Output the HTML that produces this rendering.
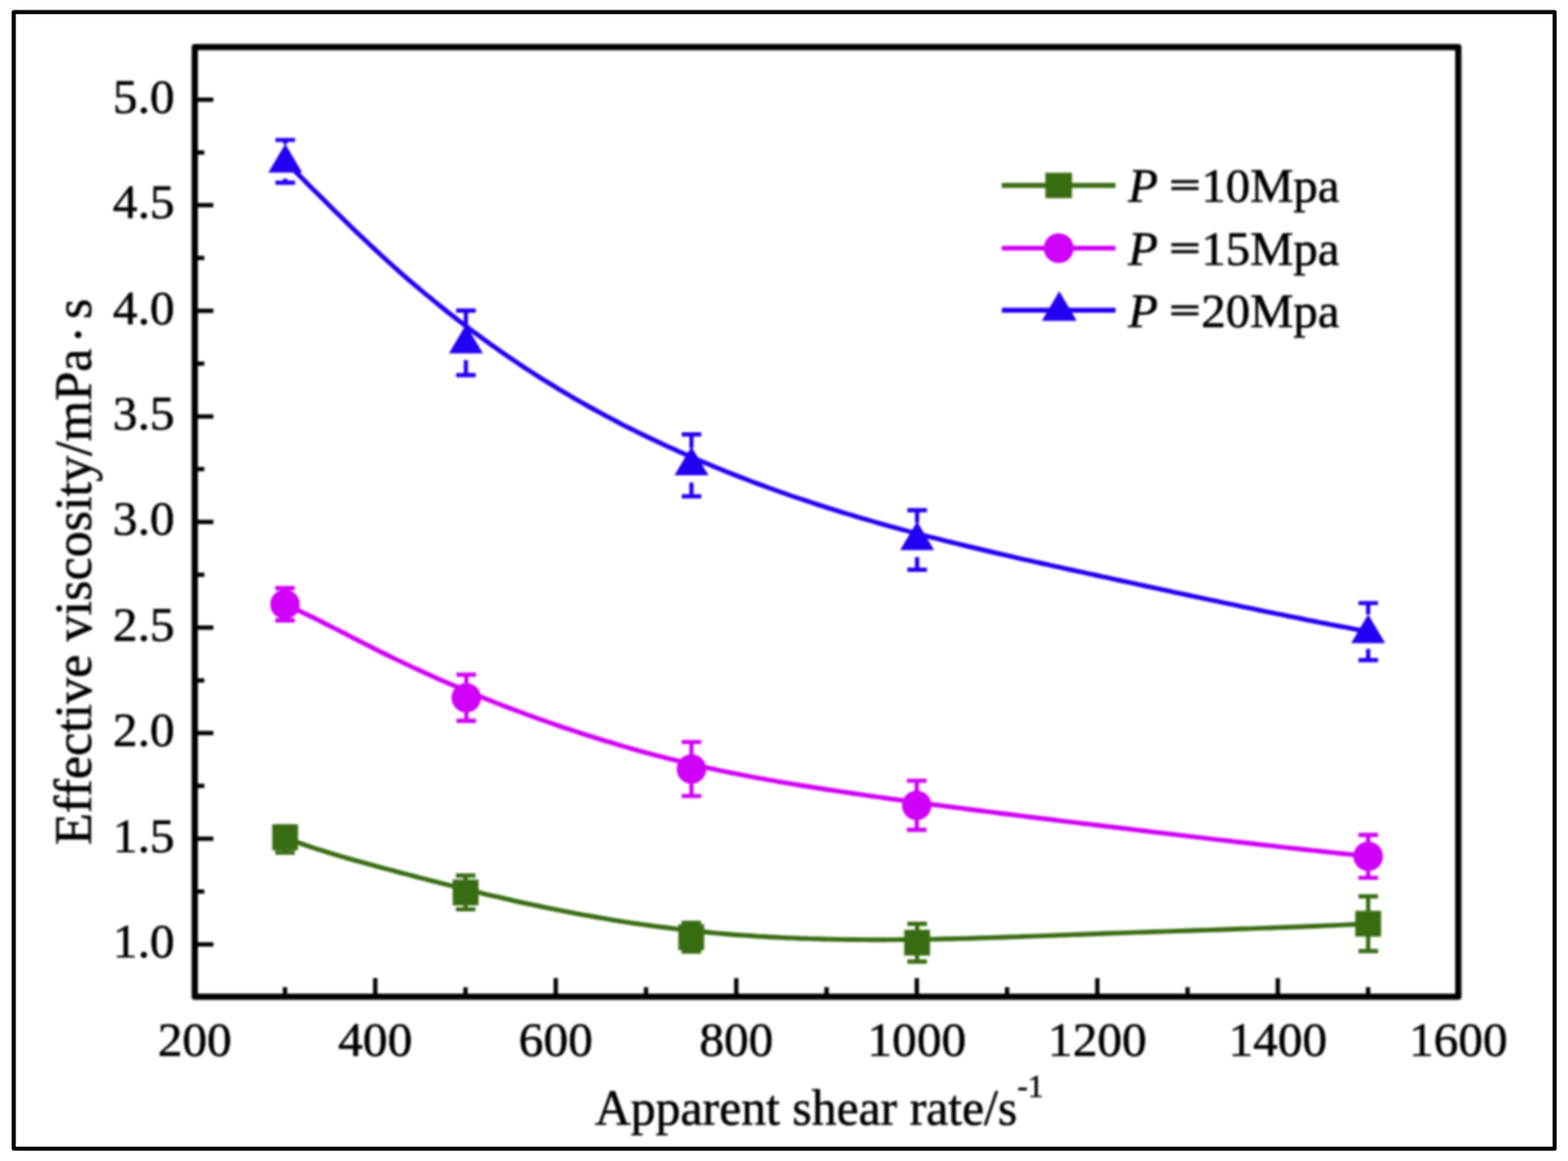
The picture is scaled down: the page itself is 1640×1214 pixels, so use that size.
<!DOCTYPE html><html><head><meta charset="utf-8"><title>Effective viscosity vs apparent shear rate</title><style>html,body{margin:0;padding:0;background:#fff;overflow:hidden;}svg{display:block;}text{font-family:"Liberation Serif","Times New Roman",serif;fill:#000;stroke:#000;stroke-width:0.6px;}</style></head><body>
<svg width="1640" height="1214" viewBox="0 0 1640 1214">
<defs><filter id="bl" x="0" y="0" width="1" height="1" color-interpolation-filters="sRGB"><feGaussianBlur stdDeviation="1.0"/></filter></defs>
<rect x="0" y="0" width="1640" height="1214" fill="#fff"/>
<g filter="url(#bl)">
<rect x="0" y="0" width="1640" height="1214" fill="#fff"/>
<rect x="203.7" y="49.2" width="1321.6" height="993.0" fill="none" stroke="#000" stroke-width="6.5" stroke-linejoin="round"/>
<path d="M203.7,987.4H223.2 M203.7,877.0H223.2 M203.7,766.6H223.2 M203.7,656.2H223.2 M203.7,545.8H223.2 M203.7,435.4H223.2 M203.7,325.0H223.2 M203.7,214.6H223.2 M203.7,104.2H223.2 M203.7,932.2H213.7 M203.7,821.8H213.7 M203.7,711.4H213.7 M203.7,601.0H213.7 M203.7,490.6H213.7 M203.7,380.2H213.7 M203.7,269.8H213.7 M203.7,159.4H213.7 M203.7,1042.2V1022.7 M392.5,1042.2V1022.7 M581.3,1042.2V1022.7 M770.1,1042.2V1022.7 M958.9,1042.2V1022.7 M1147.7,1042.2V1022.7 M1336.5,1042.2V1022.7 M1525.3,1042.2V1022.7 M298.1,1042.2V1032.2 M486.9,1042.2V1032.2 M675.7,1042.2V1032.2 M864.5,1042.2V1032.2 M1053.3,1042.2V1032.2 M1242.1,1042.2V1032.2 M1430.9,1042.2V1032.2" stroke="#000" stroke-width="4.5" fill="none"/>
<text x="182.6" y="1001.0" font-size="51.6" text-anchor="end">1.0</text>
<text x="182.6" y="890.6" font-size="51.6" text-anchor="end">1.5</text>
<text x="182.6" y="780.2" font-size="51.6" text-anchor="end">2.0</text>
<text x="182.6" y="669.8" font-size="51.6" text-anchor="end">2.5</text>
<text x="182.6" y="559.4" font-size="51.6" text-anchor="end">3.0</text>
<text x="182.6" y="449.0" font-size="51.6" text-anchor="end">3.5</text>
<text x="182.6" y="338.6" font-size="51.6" text-anchor="end">4.0</text>
<text x="182.6" y="228.2" font-size="51.6" text-anchor="end">4.5</text>
<text x="182.6" y="117.8" font-size="51.6" text-anchor="end">5.0</text>
<text x="203.7" y="1103.9" font-size="51.6" text-anchor="middle">200</text>
<text x="392.5" y="1103.9" font-size="51.6" text-anchor="middle">400</text>
<text x="581.3" y="1103.9" font-size="51.6" text-anchor="middle">600</text>
<text x="770.1" y="1103.9" font-size="51.6" text-anchor="middle">800</text>
<text x="958.9" y="1103.9" font-size="51.6" text-anchor="middle">1000</text>
<text x="1147.7" y="1103.9" font-size="51.6" text-anchor="middle">1200</text>
<text x="1336.5" y="1103.9" font-size="51.6" text-anchor="middle">1400</text>
<text x="1525.3" y="1103.9" font-size="51.6" text-anchor="middle">1600</text>
<text x="622.2" y="1176" font-size="52">Apparent shear rate/s<tspan font-size="33" dy="-29">-1</tspan></text>
<text transform="rotate(-90)" x="-883.5" y="94.5" font-size="54.6">Effective viscosity/mPa<tspan x="-359" dy="5">·</tspan><tspan x="-333.5" dy="-5">s</tspan></text>
<path d="M298.2,876.0 L304.5,878.4 L310.9,880.7 L317.2,882.9 L323.5,885.1 L329.8,887.2 L336.2,889.2 L342.5,891.2 L348.8,893.1 L355.2,895.0 L361.5,896.8 L367.8,898.6 L374.1,900.4 L380.5,902.1 L386.8,903.9 L393.1,905.6 L399.5,907.3 L405.8,909.0 L412.1,910.6 L418.4,912.3 L424.8,914.0 L431.1,915.7 L437.4,917.3 L443.8,919.0 L450.1,920.6 L456.4,922.2 L462.7,923.8 L469.1,925.4 L475.4,927.0 L481.7,928.6 L488.1,930.2 L494.4,931.7 L500.7,933.2 L507.0,934.8 L513.4,936.3 L519.7,937.7 L526.0,939.2 L532.4,940.6 L538.7,942.1 L545.0,943.5 L551.3,944.9 L557.7,946.2 L564.0,947.5 L570.3,948.9 L576.7,950.2 L583.0,951.4 L589.3,952.7 L595.6,953.9 L602.0,955.1 L608.3,956.3 L614.6,957.4 L621.0,958.5 L627.3,959.6 L633.6,960.7 L639.9,961.8 L646.3,962.8 L652.6,963.8 L658.9,964.8 L665.3,965.7 L671.6,966.6 L677.9,967.5 L684.2,968.4 L690.6,969.2 L696.9,970.0 L703.2,970.8 L709.6,971.6 L715.9,972.3 L722.2,973.0 L728.5,973.7 L734.9,974.3 L741.2,975.0 L747.5,975.6 L753.9,976.1 L760.2,976.7 L766.5,977.2 L772.8,977.7 L779.2,978.1 L785.5,978.5 L791.8,979.0 L798.2,979.3 L804.5,979.7 L810.8,980.0 L817.1,980.4 L823.5,980.7 L829.8,980.9 L836.1,981.2 L842.5,981.4 L848.8,981.6 L855.1,981.8 L861.4,982.0 L867.8,982.1 L874.1,982.3 L880.4,982.4 L886.7,982.5 L893.1,982.5 L899.4,982.6 L905.7,982.6 L912.1,982.7 L918.4,982.7 L924.7,982.7 L931.0,982.6 L937.4,982.6 L943.7,982.5 L950.0,982.5 L956.4,982.4 L962.7,982.3 L969.0,982.2 L975.3,982.1 L981.7,982.0 L988.0,981.8 L994.3,981.7 L1000.7,981.5 L1007.0,981.4 L1013.3,981.2 L1019.6,981.0 L1026.0,980.8 L1032.3,980.6 L1038.6,980.4 L1045.0,980.2 L1051.3,980.0 L1057.6,979.8 L1063.9,979.6 L1070.3,979.3 L1076.6,979.1 L1082.9,978.9 L1089.3,978.6 L1095.6,978.4 L1101.9,978.2 L1108.2,977.9 L1114.6,977.7 L1120.9,977.4 L1127.2,977.2 L1133.6,977.0 L1139.9,976.7 L1146.2,976.5 L1152.5,976.3 L1158.9,976.0 L1165.2,975.8 L1171.5,975.6 L1177.9,975.4 L1184.2,975.1 L1190.5,974.9 L1196.8,974.7 L1203.2,974.5 L1209.5,974.3 L1215.8,974.1 L1222.2,973.9 L1228.5,973.6 L1234.8,973.4 L1241.1,973.2 L1247.5,973.0 L1253.8,972.8 L1260.1,972.6 L1266.5,972.4 L1272.8,972.2 L1279.1,972.0 L1285.4,971.7 L1291.8,971.5 L1298.1,971.3 L1304.4,971.1 L1310.8,970.9 L1317.1,970.6 L1323.4,970.4 L1329.7,970.2 L1336.1,969.9 L1342.4,969.7 L1348.7,969.5 L1355.1,969.2 L1361.4,969.0 L1367.7,968.7 L1374.0,968.5 L1380.4,968.2 L1386.7,967.9 L1393.0,967.7 L1399.4,967.4 L1405.7,967.1 L1412.0,966.8 L1418.3,966.5 L1424.7,966.2 L1431.0,965.9" stroke="#386C12" stroke-width="4.9" fill="none" stroke-linejoin="round" stroke-linecap="round"/>
<path d="M298.1,631.9 L304.4,634.8 L310.8,637.7 L317.1,640.7 L323.4,643.7 L329.7,646.8 L336.1,650.0 L342.4,653.2 L348.7,656.4 L355.1,659.6 L361.4,662.8 L367.7,666.1 L374.0,669.3 L380.4,672.6 L386.7,675.8 L393.0,679.0 L399.4,682.2 L405.7,685.3 L412.0,688.4 L418.4,691.4 L424.7,694.4 L431.0,697.4 L437.3,700.3 L443.7,703.2 L450.0,706.1 L456.3,708.9 L462.7,711.7 L469.0,714.4 L475.3,717.1 L481.6,719.8 L488.0,722.5 L494.3,725.1 L500.6,727.7 L507.0,730.2 L513.3,732.7 L519.6,735.2 L525.9,737.7 L532.3,740.1 L538.6,742.5 L544.9,744.8 L551.3,747.2 L557.6,749.5 L563.9,751.7 L570.2,754.0 L576.6,756.2 L582.9,758.4 L589.2,760.6 L595.6,762.7 L601.9,764.8 L608.2,766.9 L614.6,768.9 L620.9,770.9 L627.2,772.9 L633.5,774.8 L639.9,776.7 L646.2,778.6 L652.5,780.5 L658.9,782.3 L665.2,784.1 L671.5,785.8 L677.8,787.6 L684.2,789.3 L690.5,790.9 L696.8,792.6 L703.2,794.2 L709.5,795.7 L715.8,797.3 L722.1,798.8 L728.5,800.2 L734.8,801.7 L741.1,803.1 L747.5,804.4 L753.8,805.8 L760.1,807.1 L766.4,808.4 L772.8,809.6 L779.1,810.9 L785.4,812.1 L791.8,813.3 L798.1,814.4 L804.4,815.6 L810.8,816.7 L817.1,817.8 L823.4,818.9 L829.7,819.9 L836.1,821.0 L842.4,822.0 L848.7,823.0 L855.1,824.0 L861.4,825.0 L867.7,826.0 L874.0,826.9 L880.4,827.9 L886.7,828.8 L893.0,829.7 L899.4,830.7 L905.7,831.6 L912.0,832.5 L918.3,833.4 L924.7,834.3 L931.0,835.2 L937.3,836.0 L943.7,836.9 L950.0,837.8 L956.3,838.7 L962.7,839.5 L969.0,840.4 L975.3,841.2 L981.6,842.0 L988.0,842.9 L994.3,843.7 L1000.6,844.5 L1007.0,845.4 L1013.3,846.2 L1019.6,847.0 L1025.9,847.8 L1032.3,848.6 L1038.6,849.4 L1044.9,850.2 L1051.3,851.0 L1057.6,851.8 L1063.9,852.6 L1070.2,853.4 L1076.6,854.2 L1082.9,855.0 L1089.2,855.7 L1095.6,856.5 L1101.9,857.3 L1108.2,858.1 L1114.5,858.9 L1120.9,859.6 L1127.2,860.4 L1133.5,861.2 L1139.9,861.9 L1146.2,862.7 L1152.5,863.5 L1158.9,864.2 L1165.2,865.0 L1171.5,865.8 L1177.8,866.5 L1184.2,867.3 L1190.5,868.1 L1196.8,868.8 L1203.2,869.6 L1209.5,870.4 L1215.8,871.1 L1222.1,871.9 L1228.5,872.6 L1234.8,873.4 L1241.1,874.1 L1247.5,874.9 L1253.8,875.6 L1260.1,876.4 L1266.4,877.1 L1272.8,877.9 L1279.1,878.6 L1285.4,879.3 L1291.8,880.1 L1298.1,880.8 L1304.4,881.5 L1310.7,882.3 L1317.1,883.0 L1323.4,883.7 L1329.7,884.4 L1336.1,885.1 L1342.4,885.9 L1348.7,886.6 L1355.1,887.3 L1361.4,888.0 L1367.7,888.7 L1374.0,889.4 L1380.4,890.0 L1386.7,890.7 L1393.0,891.4 L1399.4,892.1 L1405.7,892.8 L1412.0,893.4 L1418.3,894.1 L1424.7,894.7 L1431.0,895.4" stroke="#D000F8" stroke-width="4.9" fill="none" stroke-linejoin="round" stroke-linecap="round"/>
<path d="M298.4,168.7 L304.7,175.1 L311.1,181.5 L317.4,187.8 L323.7,194.2 L330.0,200.5 L336.4,206.8 L342.7,213.1 L349.0,219.4 L355.3,225.6 L361.7,231.8 L368.0,237.9 L374.3,244.0 L380.7,250.0 L387.0,256.0 L393.3,261.9 L399.6,267.7 L406.0,273.5 L412.3,279.2 L418.6,284.8 L424.9,290.3 L431.3,295.8 L437.6,301.2 L443.9,306.5 L450.3,311.7 L456.6,316.9 L462.9,322.0 L469.2,327.0 L475.6,332.0 L481.9,336.9 L488.2,341.7 L494.5,346.5 L500.9,351.1 L507.2,355.8 L513.5,360.3 L519.9,364.8 L526.2,369.2 L532.5,373.6 L538.8,377.8 L545.2,382.1 L551.5,386.2 L557.8,390.3 L564.1,394.4 L570.5,398.3 L576.8,402.2 L583.1,406.1 L589.5,409.9 L595.8,413.6 L602.1,417.3 L608.4,420.9 L614.8,424.5 L621.1,428.0 L627.4,431.4 L633.8,434.9 L640.1,438.2 L646.4,441.5 L652.7,444.8 L659.1,448.0 L665.4,451.1 L671.7,454.2 L678.0,457.3 L684.4,460.3 L690.7,463.3 L697.0,466.2 L703.4,469.1 L709.7,472.0 L716.0,474.8 L722.3,477.6 L728.7,480.3 L735.0,483.0 L741.3,485.6 L747.6,488.3 L754.0,490.8 L760.3,493.4 L766.6,495.9 L773.0,498.4 L779.3,500.8 L785.6,503.2 L791.9,505.6 L798.3,507.9 L804.6,510.2 L810.9,512.5 L817.2,514.8 L823.6,517.0 L829.9,519.2 L836.2,521.3 L842.6,523.4 L848.9,525.5 L855.2,527.6 L861.5,529.6 L867.9,531.7 L874.2,533.6 L880.5,535.6 L886.8,537.5 L893.2,539.4 L899.5,541.3 L905.8,543.2 L912.2,545.0 L918.5,546.8 L924.8,548.6 L931.1,550.3 L937.5,552.1 L943.8,553.8 L950.1,555.5 L956.4,557.2 L962.8,558.8 L969.1,560.5 L975.4,562.1 L981.8,563.7 L988.1,565.3 L994.4,566.9 L1000.7,568.4 L1007.1,570.0 L1013.4,571.5 L1019.7,573.0 L1026.0,574.5 L1032.4,576.0 L1038.7,577.5 L1045.0,579.0 L1051.4,580.4 L1057.7,581.9 L1064.0,583.3 L1070.3,584.8 L1076.7,586.2 L1083.0,587.6 L1089.3,589.0 L1095.6,590.4 L1102.0,591.8 L1108.3,593.2 L1114.6,594.6 L1121.0,596.0 L1127.3,597.3 L1133.6,598.7 L1139.9,600.1 L1146.3,601.5 L1152.6,602.9 L1158.9,604.2 L1165.3,605.6 L1171.6,607.0 L1177.9,608.4 L1184.2,609.7 L1190.6,611.1 L1196.9,612.5 L1203.2,613.8 L1209.5,615.2 L1215.9,616.6 L1222.2,617.9 L1228.5,619.3 L1234.9,620.7 L1241.2,622.0 L1247.5,623.4 L1253.8,624.7 L1260.2,626.1 L1266.5,627.4 L1272.8,628.7 L1279.1,630.1 L1285.5,631.4 L1291.8,632.7 L1298.1,634.1 L1304.5,635.4 L1310.8,636.7 L1317.1,638.0 L1323.4,639.3 L1329.8,640.6 L1336.1,641.9 L1342.4,643.2 L1348.7,644.5 L1355.1,645.7 L1361.4,647.0 L1367.7,648.3 L1374.1,649.5 L1380.4,650.8 L1386.7,652.0 L1393.0,653.3 L1399.4,654.5 L1405.7,655.7 L1412.0,656.9 L1418.3,658.1 L1424.7,659.3 L1431.0,660.5" stroke="#2200F2" stroke-width="4.9" fill="none" stroke-linejoin="round" stroke-linecap="round"/>
<path d="M298.2,888.5V891.5M287.9,864.0h20.5M287.9,891.5h20.5" stroke="#386C12" stroke-width="4.4" fill="none"/>
<rect x="284.7" y="862.0" width="27" height="27" fill="#386C12"/>
<path d="M487.0,915.5V920.2M487.0,946.2V950.9M476.8,915.5h20.5M476.8,950.9h20.5" stroke="#386C12" stroke-width="4.4" fill="none"/>
<rect x="473.5" y="919.7" width="27" height="27" fill="#386C12"/>
<path d="M723.0,965.0V967.0M723.0,993.0V995.0M712.8,965.0h20.5M712.8,995.0h20.5" stroke="#386C12" stroke-width="4.4" fill="none"/>
<rect x="709.5" y="966.5" width="27" height="27" fill="#386C12"/>
<path d="M959.2,966.0V972.7M959.2,998.7V1005.5M949.0,966.0h20.5M949.0,1005.5h20.5" stroke="#386C12" stroke-width="4.4" fill="none"/>
<rect x="945.7" y="972.2" width="27" height="27" fill="#386C12"/>
<path d="M1431,937.2V952.9M1431,978.9V994.5M1420.8,937.2h20.5M1420.8,994.5h20.5" stroke="#386C12" stroke-width="4.4" fill="none"/>
<rect x="1417.5" y="952.4" width="27" height="27" fill="#386C12"/>
<path d="M298.1,615.0V616.9M298.1,646.9V648.8M287.9,615.0h20.5M287.9,648.8h20.5" stroke="#D000F8" stroke-width="4.4" fill="none"/>
<circle cx="298.1" cy="631.9" r="15.4" fill="#D000F8"/>
<path d="M487.7,705.5V714.6M487.7,744.6V753.7M477.4,705.5h20.5M477.4,753.7h20.5" stroke="#D000F8" stroke-width="4.4" fill="none"/>
<circle cx="487.7" cy="729.6" r="15.4" fill="#D000F8"/>
<path d="M723.2,775.9V789.2M723.2,819.2V832.4M713.0,775.9h20.5M713.0,832.4h20.5" stroke="#D000F8" stroke-width="4.4" fill="none"/>
<circle cx="723.2" cy="804.2" r="15.4" fill="#D000F8"/>
<path d="M958.8,816.4V827.1M958.8,857.1V867.8M948.5,816.4h20.5M948.5,867.8h20.5" stroke="#D000F8" stroke-width="4.4" fill="none"/>
<circle cx="958.8" cy="842.1" r="15.4" fill="#D000F8"/>
<path d="M1431,873.0V880.4M1431,910.4V917.9M1420.8,873.0h20.5M1420.8,917.9h20.5" stroke="#D000F8" stroke-width="4.4" fill="none"/>
<circle cx="1431" cy="895.4" r="15.4" fill="#D000F8"/>
<path d="M298.4,146.4V150.7M298.4,186.7V191.0M288.1,146.4h20.5M288.1,191.0h20.5" stroke="#2200F2" stroke-width="4.4" fill="none"/>
<path d="M298.4,150.5L316.1,180.5L280.6,180.5Z" fill="#2200F2"/>
<path d="M487.3,324.7V340.5M487.3,376.5V392.3M477.1,324.7h20.5M477.1,392.3h20.5" stroke="#2200F2" stroke-width="4.4" fill="none"/>
<path d="M487.3,339.5L505.1,369.5L469.6,369.5Z" fill="#2200F2"/>
<path d="M723.2,454.3V468.6M723.2,504.6V519.0M713.0,454.3h20.5M713.0,519.0h20.5" stroke="#2200F2" stroke-width="4.4" fill="none"/>
<path d="M723.2,467.0L741.0,497.0L705.5,497.0Z" fill="#2200F2"/>
<path d="M959.2,533.5V546.6M959.2,582.6V595.7M949.0,533.5h20.5M949.0,595.7h20.5" stroke="#2200F2" stroke-width="4.4" fill="none"/>
<path d="M959.2,545.3L977.0,575.3L941.5,575.3Z" fill="#2200F2"/>
<path d="M1431,630.6V642.5M1431,678.5V690.3M1420.8,630.6h20.5M1420.8,690.3h20.5" stroke="#2200F2" stroke-width="4.4" fill="none"/>
<path d="M1431.0,642.5L1448.8,672.5L1413.2,672.5Z" fill="#2200F2"/>
<path d="M1047.8,193.9H1166.7" stroke="#386C12" stroke-width="5.2"/>
<rect x="1093.4" y="180.6" width="27.8" height="26.6" fill="#386C12"/>
<text x="1179.9" y="211.0" font-size="51"><tspan font-style="italic">P</tspan></text>
<text x="1223.4" y="213.4" font-size="51" style="stroke-width:2px" transform="translate(1223.4 189.0) scale(1.1 0.69) translate(-1223.4 -189.0)">=</text>
<text x="1256.5" y="211.0" font-size="51">10Mpa</text>
<path d="M1047.8,259.5H1166.7" stroke="#D000F8" stroke-width="5.2"/>
<circle cx="1107.3" cy="259.5" r="15.6" fill="#D000F8"/>
<text x="1179.9" y="277.1" font-size="51"><tspan font-style="italic">P</tspan></text>
<text x="1223.4" y="279.5" font-size="51" style="stroke-width:2px" transform="translate(1223.4 255.1) scale(1.1 0.69) translate(-1223.4 -255.1)">=</text>
<text x="1256.5" y="277.1" font-size="51">15Mpa</text>
<path d="M1047.8,324.3H1166.7" stroke="#2200F2" stroke-width="5.2"/>
<path d="M1107.9,304.6L1126.2,335.6L1089.7,335.6Z" fill="#2200F2"/>
<text x="1179.9" y="341.8" font-size="51"><tspan font-style="italic">P</tspan></text>
<text x="1223.4" y="344.2" font-size="51" style="stroke-width:2px" transform="translate(1223.4 319.8) scale(1.1 0.69) translate(-1223.4 -319.8)">=</text>
<text x="1256.5" y="341.8" font-size="51">20Mpa</text>
</g>
<rect x="14.4" y="12.6" width="1611.6" height="1188.6" fill="none" stroke="#000" stroke-width="4.3" stroke-linejoin="round"/>
</svg></body></html>
